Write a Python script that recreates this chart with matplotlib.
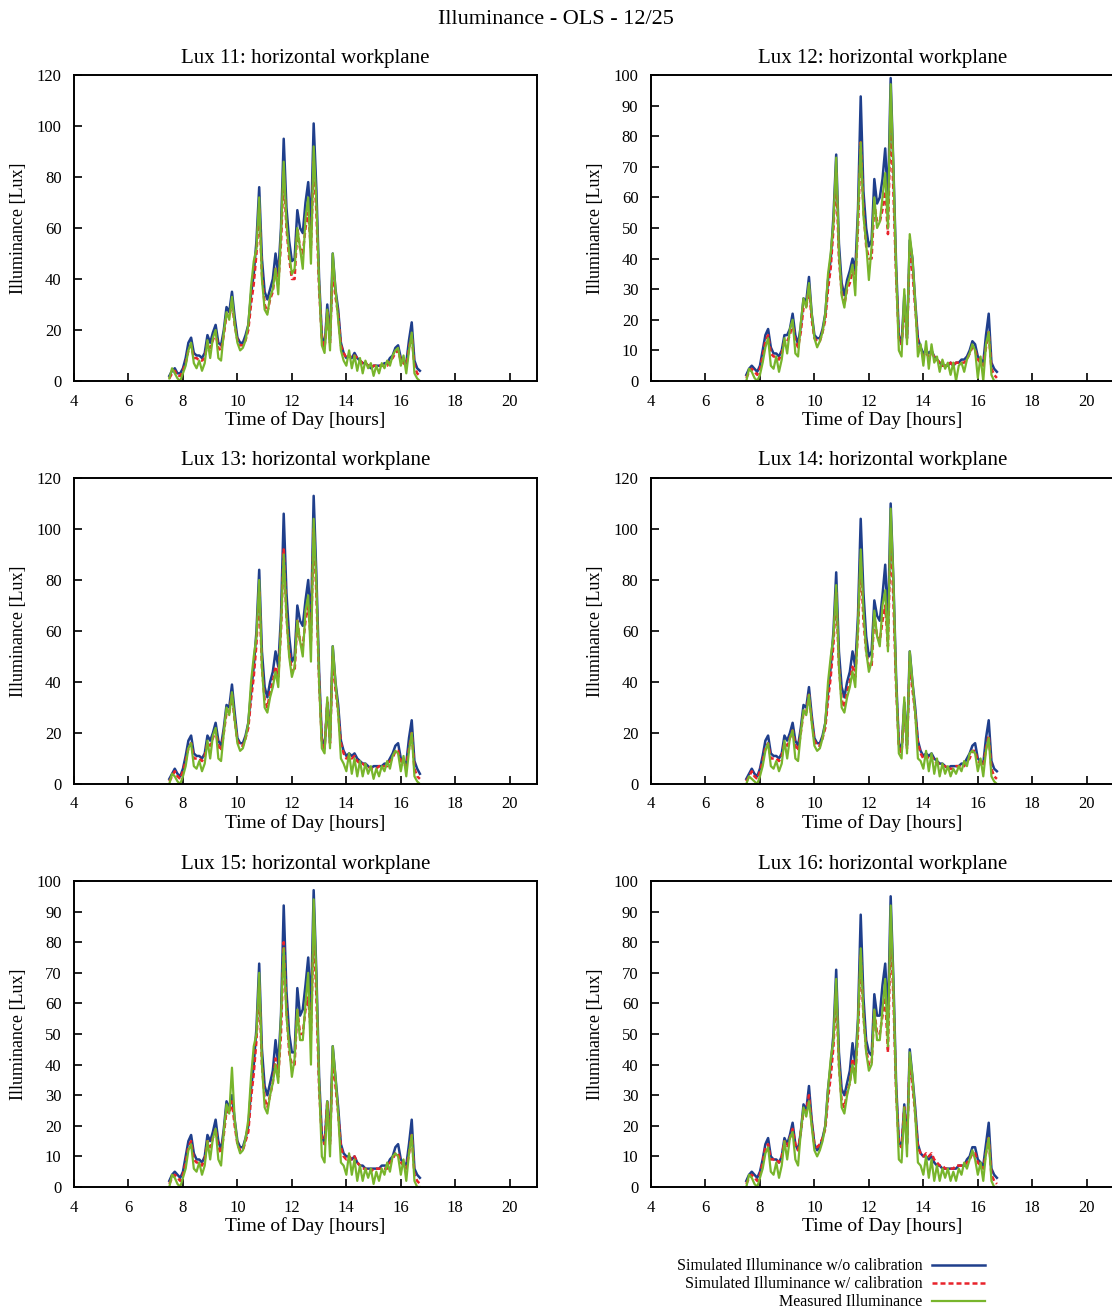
import numpy as np
import matplotlib
matplotlib.use('Agg')
import matplotlib.pyplot as plt

plt.rcParams['font.family'] = ['Liberation Serif', 'DejaVu Serif']

# samples every 0.1 h starting at 7.5 h
t_start = 7.5
t_step = 0.1

lux11_nocal = [2, 4, 5, 3, 3, 5, 9, 15, 17, 11,
               10, 10, 9, 11, 18, 15, 19, 22, 15, 14,
               20, 29, 27, 35, 25, 17, 15, 15, 18, 22,
               34, 42, 55, 76, 48, 35, 32, 36, 40, 50,
               42, 60, 95, 68, 55, 47, 48, 67, 60, 58,
               70, 78, 60, 101, 75, 40, 18, 13, 30, 16,
               50, 36, 28, 15, 11, 9, 10, 9, 11, 9,
               8, 7, 7, 6, 5, 6, 6, 6, 6, 7,
               7, 9, 10, 13, 14, 9, 8, 7, 16, 23,
               8, 5, 4]
lux11_cal = [1, 3, 4, 2, 2, 4, 7, 12, 14, 9,
             9, 8, 8, 9, 15, 13, 16, 19, 13, 12,
             18, 26, 25, 31, 22, 16, 14, 14, 16, 20,
             30, 38, 50, 68, 42, 30, 27, 32, 35, 44,
             38, 54, 82, 60, 48, 40, 40, 60, 52, 50,
             60, 66, 52, 86, 66, 36, 17, 13, 27, 15,
             44, 33, 26, 14, 11, 9, 10, 9, 10, 9,
             8, 7, 7, 6, 5, 6, 6, 6, 6, 6,
             6, 8, 9, 11, 12, 8, 7, 6, 13, 18,
             6, 3, 2]
lux11_meas = [1, 5, 3, 1, 0, 3, 6, 12, 15, 7,
              5, 8, 4, 7, 16, 9, 17, 20, 9, 8,
              19, 27, 24, 33, 22, 15, 12, 13, 16, 22,
              37, 47, 52, 72, 40, 28, 26, 33, 36, 44,
              34, 58, 86, 62, 50, 42, 44, 60, 52, 44,
              64, 72, 46, 92, 70, 38, 14, 11, 28, 12,
              50, 36, 24, 12, 8, 6, 12, 5, 10, 4,
              9, 3, 8, 5, 7, 2, 6, 3, 7, 5,
              8, 6, 10, 12, 13, 6, 10, 3, 12, 19,
              3, 1, 0]

lux12_nocal = [2, 4, 5, 4, 3, 5, 10, 15, 17, 11,
               9, 9, 8, 10, 15, 15, 17, 22, 15, 12,
               18, 27, 26, 34, 22, 15, 14, 14, 17, 22,
               33, 40, 54, 74, 45, 32, 28, 33, 36, 40,
               36, 56, 93, 62, 50, 44, 46, 66, 58, 60,
               66, 76, 58, 99, 70, 38, 15, 12, 28, 14,
               46, 40, 26, 14, 11, 9, 10, 9, 10, 8,
               7, 6, 5, 5, 5, 6, 5, 6, 6, 7,
               7, 8, 10, 13, 12, 8, 7, 6, 15, 22,
               6, 4, 3]
lux12_cal = [1, 3, 4, 3, 2, 4, 8, 13, 15, 9,
             8, 8, 7, 9, 13, 13, 15, 19, 13, 11,
             16, 24, 24, 31, 20, 14, 13, 13, 16, 20,
             30, 37, 50, 68, 40, 29, 25, 30, 32, 36,
             33, 50, 78, 56, 44, 40, 40, 58, 52, 52,
             56, 62, 48, 86, 62, 34, 14, 12, 24, 14,
             42, 36, 24, 13, 10, 8, 9, 8, 9, 8,
             7, 6, 5, 5, 5, 6, 5, 6, 6, 6,
             6, 7, 9, 11, 10, 7, 6, 5, 11, 16,
             4, 2, 1]
lux12_meas = [0, 4, 3, 1, 0, 2, 6, 11, 14, 5,
              4, 8, 3, 7, 14, 9, 17, 20, 9, 8,
              19, 27, 24, 32, 22, 14, 11, 13, 16, 22,
              35, 42, 52, 73, 42, 28, 24, 31, 34, 38,
              28, 54, 78, 54, 45, 33, 44, 60, 50, 52,
              60, 68, 50, 97, 70, 36, 10, 8, 30, 12,
              48, 40, 26, 8, 12, 5, 13, 4, 12, 6,
              8, 3, 7, 4, 6, 2, 6, 0, 5, 6,
              3, 7, 9, 12, 10, 1, 8, 0, 12, 16,
              2, 0, 0]

lux13_nocal = [2, 4, 6, 4, 3, 6, 11, 17, 19, 12,
               11, 11, 10, 12, 19, 17, 20, 24, 17, 15,
               22, 31, 30, 39, 28, 18, 16, 16, 19, 24,
               36, 46, 60, 84, 52, 38, 34, 40, 44, 52,
               46, 66, 106, 75, 58, 48, 50, 70, 64, 62,
               72, 80, 62, 113, 82, 44, 18, 14, 32, 17,
               54, 40, 31, 17, 13, 11, 12, 11, 12, 10,
               9, 8, 8, 7, 6, 7, 7, 7, 7, 8,
               8, 10, 12, 15, 16, 10, 9, 8, 18, 25,
               9, 6, 4]
lux13_cal = [1, 3, 5, 3, 2, 5, 9, 14, 16, 10,
             10, 10, 9, 11, 16, 15, 18, 21, 15, 13,
             20, 28, 28, 35, 25, 17, 15, 15, 18, 22,
             33, 42, 55, 76, 46, 33, 30, 36, 40, 46,
             42, 60, 92, 66, 52, 44, 44, 64, 56, 54,
             64, 70, 56, 100, 74, 40, 17, 14, 32, 16,
             50, 37, 28, 16, 12, 10, 11, 10, 11, 9,
             8, 8, 7, 7, 6, 6, 6, 7, 7, 7,
             7, 9, 10, 13, 13, 9, 8, 7, 14, 20,
             6, 3, 2]
lux13_meas = [0, 4, 3, 1, 0, 3, 7, 14, 16, 7,
              6, 9, 5, 8, 17, 10, 19, 22, 10, 9,
              20, 30, 27, 36, 25, 16, 13, 14, 18, 24,
              40, 50, 58, 80, 46, 30, 28, 34, 38, 44,
              38, 62, 90, 66, 50, 42, 46, 64, 56, 50,
              68, 74, 48, 104, 78, 40, 14, 12, 34, 14,
              54, 40, 28, 10, 8, 5, 12, 4, 10, 3,
              9, 3, 8, 4, 7, 2, 6, 3, 7, 5,
              9, 6, 11, 13, 12, 5, 11, 3, 13, 20,
              3, 1, 0]

lux14_nocal = [2, 4, 6, 4, 3, 6, 11, 17, 19, 12,
               11, 11, 10, 12, 19, 17, 20, 24, 17, 15,
               22, 31, 30, 38, 27, 18, 16, 16, 19, 24,
               36, 46, 60, 83, 52, 38, 34, 40, 44, 52,
               46, 66, 104, 75, 58, 50, 52, 72, 66, 64,
               74, 86, 62, 110, 80, 42, 16, 13, 32, 15,
               52, 40, 30, 17, 13, 11, 12, 11, 12, 10,
               9, 8, 8, 7, 6, 7, 7, 7, 7, 8,
               8, 10, 12, 15, 16, 10, 9, 8, 18, 25,
               9, 6, 5]
lux14_cal = [1, 3, 5, 3, 2, 5, 9, 14, 16, 10,
             10, 10, 9, 11, 16, 15, 18, 21, 15, 13,
             20, 28, 28, 35, 25, 17, 15, 15, 18, 22,
             33, 42, 55, 75, 46, 33, 30, 36, 40, 46,
             42, 60, 88, 64, 52, 46, 46, 66, 58, 56,
             64, 70, 54, 98, 72, 38, 15, 12, 30, 14,
             48, 37, 28, 16, 12, 10, 11, 10, 11, 9,
             8, 8, 7, 7, 6, 6, 6, 7, 7, 7,
             7, 9, 10, 13, 13, 9, 8, 7, 14, 19,
             6, 3, 2]
lux14_meas = [0, 3, 2, 1, 0, 3, 7, 13, 16, 7,
              6, 9, 5, 8, 17, 10, 18, 21, 10, 9,
              20, 29, 27, 35, 24, 15, 13, 14, 18, 24,
              40, 50, 58, 78, 46, 30, 28, 34, 38, 44,
              38, 62, 92, 68, 52, 44, 48, 68, 58, 54,
              70, 76, 52, 108, 80, 40, 12, 10, 34, 12,
              52, 40, 28, 10, 9, 6, 13, 5, 12, 4,
              10, 3, 8, 4, 7, 3, 6, 4, 7, 5,
              9, 7, 12, 13, 12, 5, 10, 3, 13, 18,
              3, 1, 0]

lux15_nocal = [2, 4, 5, 4, 3, 5, 10, 15, 17, 11,
               9, 9, 8, 10, 17, 15, 18, 22, 15, 12,
               19, 28, 26, 30, 22, 15, 13, 13, 16, 20,
               32, 40, 52, 73, 45, 33, 30, 34, 38, 48,
               40, 56, 92, 64, 50, 44, 44, 65, 56, 58,
               66, 75, 58, 97, 70, 36, 17, 14, 28, 15,
               46, 36, 26, 14, 11, 10, 10, 9, 10, 8,
               7, 7, 6, 6, 6, 6, 6, 6, 7, 7,
               7, 9, 10, 13, 14, 9, 8, 7, 14, 22,
               6, 4, 3]
lux15_cal = [1, 3, 4, 3, 2, 4, 8, 13, 15, 9,
             8, 8, 7, 9, 15, 13, 16, 19, 13, 11,
             17, 25, 24, 28, 20, 14, 12, 12, 15, 18,
             29, 37, 48, 66, 40, 29, 26, 30, 34, 42,
             36, 50, 80, 58, 44, 40, 40, 58, 50, 50,
             58, 62, 50, 85, 62, 32, 16, 14, 28, 14,
             42, 33, 24, 13, 10, 9, 10, 9, 10, 8,
             7, 6, 6, 5, 5, 6, 6, 6, 6, 6,
             6, 8, 9, 11, 11, 8, 7, 6, 11, 17,
             4, 2, 1]
lux15_meas = [0, 4, 3, 1, 0, 3, 6, 12, 14, 6,
              5, 8, 4, 7, 15, 9, 16, 19, 9, 7,
              18, 27, 24, 39, 22, 14, 11, 12, 16, 22,
              36, 46, 50, 70, 40, 26, 24, 30, 34, 40,
              34, 56, 78, 56, 46, 36, 42, 58, 48, 48,
              60, 70, 40, 94, 68, 34, 10, 8, 28, 10,
              46, 36, 24, 8, 7, 4, 11, 4, 9, 2,
              7, 2, 6, 3, 6, 1, 5, 2, 6, 4,
              8, 5, 10, 11, 10, 4, 9, 2, 11, 17,
              2, 0, 0]

lux16_nocal = [2, 4, 5, 4, 3, 5, 9, 14, 16, 10,
               9, 9, 8, 10, 16, 14, 17, 21, 14, 12,
               18, 27, 25, 33, 22, 14, 12, 13, 16, 20,
               32, 40, 50, 71, 44, 32, 30, 34, 38, 47,
               40, 55, 89, 62, 48, 44, 43, 63, 56, 56,
               66, 73, 55, 95, 68, 34, 15, 13, 27, 14,
               45, 36, 26, 14, 11, 10, 10, 9, 10, 8,
               7, 7, 6, 6, 6, 6, 6, 6, 7, 7,
               7, 9, 10, 13, 13, 9, 8, 7, 14, 21,
               6, 4, 3]
lux16_cal = [1, 3, 4, 3, 2, 4, 8, 13, 14, 9,
             9, 9, 8, 10, 15, 13, 16, 19, 14, 12,
             18, 25, 25, 30, 21, 14, 13, 14, 16, 19,
             29, 36, 46, 64, 40, 28, 26, 31, 34, 42,
             37, 50, 76, 56, 45, 40, 40, 58, 50, 50,
             56, 62, 44, 84, 62, 31, 14, 13, 26, 14,
             42, 33, 24, 13, 11, 10, 11, 10, 11, 9,
             8, 7, 7, 6, 6, 6, 6, 7, 7, 7,
             7, 8, 9, 11, 11, 8, 7, 6, 11, 16,
             4, 2, 1]
lux16_meas = [0, 4, 3, 1, 0, 3, 6, 11, 13, 5,
              4, 8, 3, 7, 15, 9, 16, 18, 9, 7,
              18, 26, 23, 28, 20, 12, 10, 12, 15, 20,
              32, 42, 48, 68, 40, 26, 24, 30, 34, 40,
              34, 54, 78, 56, 44, 38, 40, 58, 48, 48,
              58, 68, 46, 92, 66, 32, 9, 8, 26, 10,
              44, 36, 24, 8, 7, 4, 10, 3, 9, 2,
              7, 2, 6, 3, 6, 2, 5, 2, 6, 4,
              8, 6, 9, 12, 9, 4, 8, 2, 11, 16,
              2, 0, 0]

titles = ['Lux 11: horizontal workplane', 'Lux 12: horizontal workplane',
          'Lux 13: horizontal workplane', 'Lux 14: horizontal workplane',
          'Lux 15: horizontal workplane', 'Lux 16: horizontal workplane']
panels = [(lux11_nocal, lux11_cal, lux11_meas),
          (lux12_nocal, lux12_cal, lux12_meas),
          (lux13_nocal, lux13_cal, lux13_meas),
          (lux14_nocal, lux14_cal, lux14_meas),
          (lux15_nocal, lux15_cal, lux15_meas),
          (lux16_nocal, lux16_cal, lux16_meas)]
ymax = [120, 100, 120, 120, 100, 100]
ystep = [20, 10, 20, 20, 10, 10]
xticks = [4, 6, 8, 10, 12, 14, 16, 18, 20]

labels = ['Simulated Illuminance w/o calibration',
          'Simulated Illuminance w/ calibration',
          'Measured Illuminance']
colors = ['#1f3f8c', '#e8232b', '#78b52c']

fig = plt.figure(figsize=(11.12, 13.13), dpi=100)
fig.text(0.5, 1 - 19/1313, 'Illuminance - OLS - 12/25', ha='center', va='center', fontsize=16)

lefts = [74, 651]
tops = [75, 478, 881]
w, h = 463, 306

for i, (series, title) in enumerate(zip(panels, titles)):
    col, row = i % 2, i // 2
    ax = fig.add_axes([lefts[col]/1112, 1 - (tops[row] + h)/1313, w/1112, h/1313])
    t = t_start + t_step*np.arange(len(series[0]))
    ax.plot(t, series[0], color=colors[0], lw=1.8, label=labels[0])
    ax.plot(t, series[1], color=colors[1], lw=1.8, ls=(0, (2, 1.2)), label=labels[1])
    ax.plot(t, series[2], color=colors[2], lw=1.6, label=labels[2])
    ax.set_xlim(4, 21)
    ax.set_ylim(0, ymax[i])
    ax.set_xticks(xticks)
    ax.set_yticks(np.arange(0, ymax[i] + 1, ystep[i]))
    ax.tick_params(direction='in', length=6, width=1.2, labelsize=12, top=False, right=False)
    ax.tick_params(axis='x', pad=9)
    ax.tick_params(axis='y', pad=9)
    for s in ax.spines.values():
        s.set_linewidth(1.4)
    ax.set_title(title, fontsize=15, pad=9)
    ax.set_xlabel('Time of Day [hours]', fontsize=14, labelpad=1)
    ax.set_ylabel('Illuminance [Lux]', fontsize=13, labelpad=7)

handles, lbls = ax.get_legend_handles_labels()
fig.legend(handles, lbls, loc='upper right', bbox_to_anchor=(999/1112, 1 - 1244/1313),
           frameon=False, fontsize=11.5, markerfirst=False, handlelength=3.3,
           handletextpad=0.6, labelspacing=0.12, alignment='right')

plt.savefig('out.png', dpi=100)
